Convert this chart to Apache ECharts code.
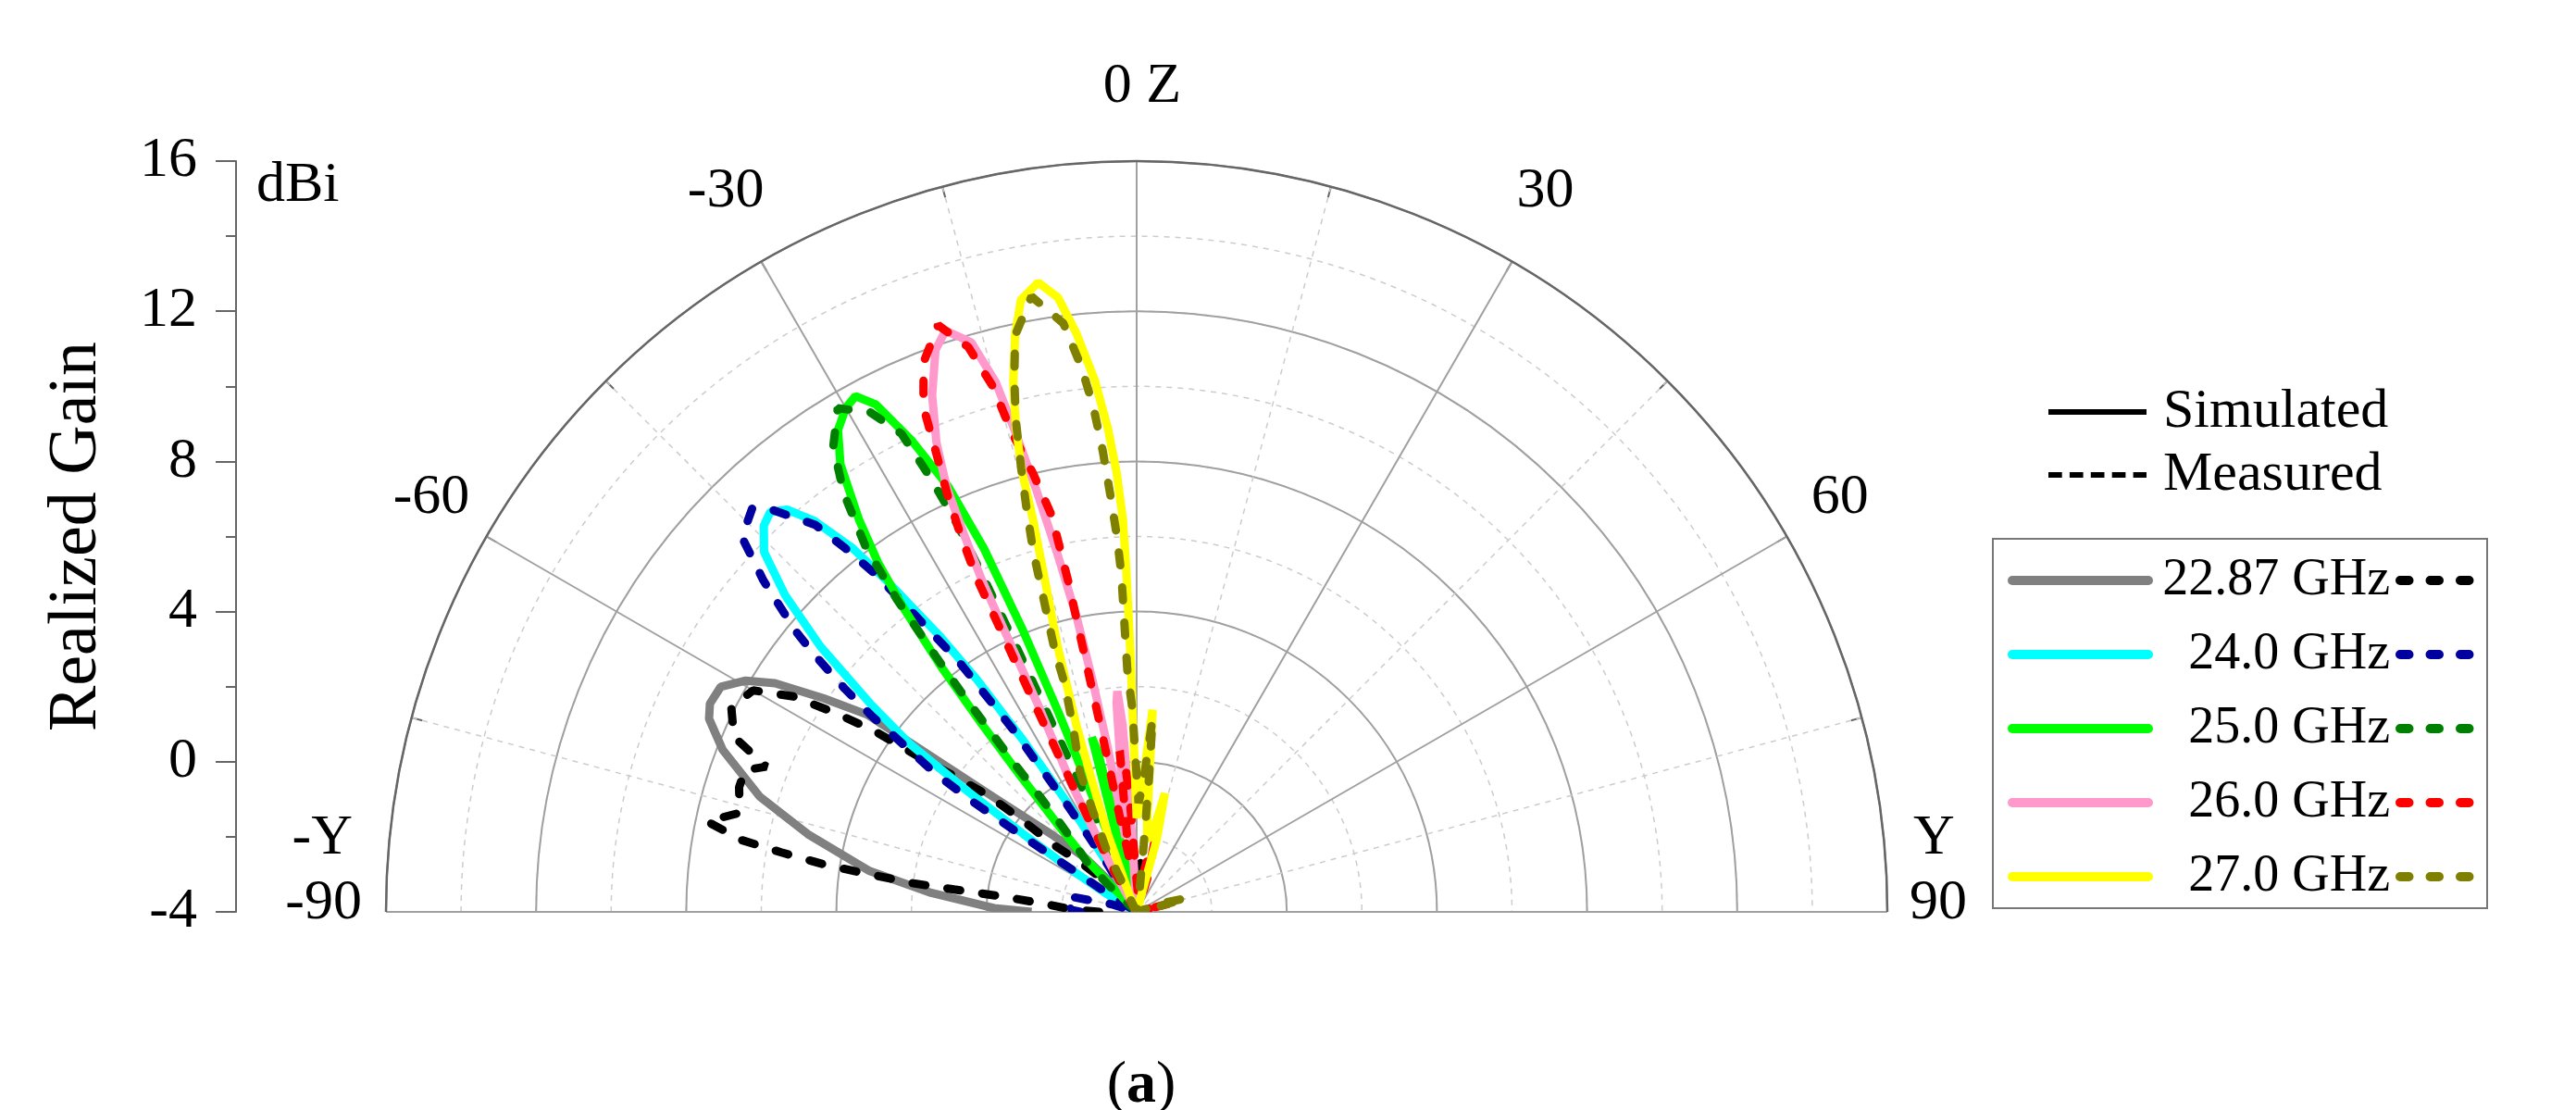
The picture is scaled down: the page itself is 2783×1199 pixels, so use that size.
<!DOCTYPE html>
<html>
<head>
<meta charset="utf-8">
<script src="https://cdn.jsdelivr.net/npm/echarts@6/dist/echarts.min.js"></script>
<style>
  html, body { margin: 0; background: #fff; }
  #main { width: 2783px; height: 1199px; }
</style>
</head>
<body>
<div id="main"></div>
<script>
// realized gain patterns, angle in degrees, gain in dBi
const sim2287Ang  = [-90, -88.5, -84.7, -81.3, -76.7, -73, -68.6, -65.7, -64, -61.6, -59.4, -57.7, -55.7, -53.8, -52.9, -51.3, -47.5, -43.7, -40, -36, 90];
const sim2287Gain = [-1.2, -0.2, 1.5, 3.2, 5.0, 6.5, 7.85, 8.5, 8.65, 8.6, 8.1, 7.4, 6.1, 4.9, 2.9, 0.9, -1.0, -2.0, -3.2, -4, -4];
const meas2287Ang  = [-90, -88, -84.9, -83.4, -83.0, -82.7, -82.0, -81.4, -80.5, -79.7, -78.1, -76.0, -72.6, -70.1, -68.6, -66.5, -63.2, -60.0, -57.9, -56.6, -55.4, -54.6, -53.4, -51.9, -51.3, -51.0, -48.6, -45, -42, -10, -2, 2.4, 8, 12, 16, 90];
const meas2287Gain = [-3.0, -2.3, -1.5, -0.3, 0.9, 2.0, 3.2, 4.4, 5.6, 6.7, 7.7, 6.9, 7.1, 7.1, 6.6, 7.7, 8.1, 7.8, 6.8, 5.65, 4.5, 3.2, 2.1, 1.0, -0.1, -1.2, -2.0, -3.0, -4, -4, -3.5, -2.8, -2.5, -3.5, -4, -4];

const sim240Ang  = [-90, -64, -61, -58.5, -57, -55.5, -54.5, -53.5, -52, -50, -48, -46, -44, -42.5, -41, -39.5, -38, -37, -35.5, -34.5, -33.5, -32, -30, -28, 90];
const sim240Gain = [-4, -4, -3.5, -2.8, -1.8, -0.3, 1.5, 3.5, 5.0, 7.0, 8.6, 9.8, 10.3, 10.45, 10.2, 9.5, 8.3, 7.0, 5.0, 3.5, 1.5, -1.0, -3.0, -4, -4];
const meas240Ang  = [-90, -88, -82, -77, -73, -68, -60, -57.5, -56.6, -56.1, -55.5, -54.4, -53.5, -52.6, -51.4, -50.5, -48.4, -46.5, -43.6, -42.3, -39.7, -38.7, -37.8, -37.1, -35.4, -34.1, -33, -31.5, -29, 90];
const meas240Gain = [-2.5, -2.2, -2.4, -2.2, -3.3, -4, -4, -3.0, -1.1, 1.2, 2.5, 3.6, 4.8, 5.8, 7.0, 7.8, 9.3, 10.5, 10.85, 10.5, 9.4, 8.4, 7.45, 6.4, 4.2, 1.8, -0.5, -2.5, -4, -4];

const sim250Ang  = [-90, -48, -44, -42, -40.5, -39.5, -38.6, -37.5, -36.5, -35.3, -33.5, -31.8, -30, -28.6, -27.2, -25.5, -23.9, -22.8, -22.0, -21.4, -21.0, -19.5, -17.5, -15.5, -14.4, -13.6, -12.5, -11, 90];
const sim250Gain = [-4, -4, -2.0, -0.8, 0.8, 2.5, 4.3, 6.2, 7.6, 8.8, 10.3, 11.1, 11.5, 11.65, 11.2, 9.9, 8.4, 6.5, 4.1, 1.7, -0.4, -2.5, -4, -3.0, 0.8, 0.4, -2.5, -4, -4];
const meas250Ang  = [-90, -55, -47, -45.3, -41, -40, -39.5, -39, -38.6, -38.2, -37.5, -36.6, -35, -33.1, -30.7, -28.1, -26.2, -25.4, -24.8, -24.6, -24.4, -24.2, -24.0, -23, -21, -18, 90];
const meas250Gain = [-4, -4, -3.2, -2.2, -1.0, 0.0, 1.1, 2.3, 3.5, 4.6, 6.5, 8.1, 9.6, 10.8, 11.6, 11.1, 10.2, 8.8, 7.3, 5.5, 3.6, 1.75, 0.1, -2.0, -3.5, -4, -4];

const sim260Ang  = [-90, -31, -29, -27, -25.5, -25.2, -25.0, -24.6, -24.1, -23.1, -21.6, -19.7, -18.2, -16.2, -14.9, -14.2, -13.4, -12.5, -11.5, -10.8, -10, -8.5, -7, -5.5, -5, -4.3, -3.5, -2, 90];
const sim260Gain = [-4, -4, -2.5, -0.2, 2.0, 4.0, 5.8, 7.0, 8.4, 9.6, 10.8, 11.9, 12.3, 11.8, 10.6, 9.2, 7.6, 5.8, 4.0, 2.3, 0.5, -2.0, -1.0, 1.6, 1.9, 1.0, -2.0, -4, -4];
const meas260Ang  = [-90, -32, -29, -27, -26.2, -25.8, -25.6, -25.0, -24.4, -23.5, -22.9, -21.2, -18.7, -16.6, -15.3, -14.6, -13.3, -12.1, -11.7, -11.5, -11.3, -11.0, -10, -8, -6, -4.5, -3.5, -1, 4, 12.2, 14.2, 17.8, 22, 70, 75.7, 80, 90];
const meas260Gain = [-4, -4, -2.5, -0.5, 2.0, 4.0, 5.9, 7.15, 8.2, 9.5, 10.6, 11.7, 12.5, 11.7, 10.5, 9.2, 8.0, 6.8, 5.0, 3.1, 2.0, 0.9, -1.5, -2.5, 0.3, 0.0, -1.0, -3.0, -3.5, -2.2, -2.1, -3.0, -4, -4, -3.1, -4, -4];

const sim270Ang  = [-90, -26, -23, -20.4, -18.8, -17.9, -16.6, -15.3, -14.8, -14.6, -14.0, -13.1, -11.9, -10.7, -8.9, -7.3, -5.95, -4.5, -3.4, -2.6, -2.0, -1.75, -1.4, -1.0, 0, 2, 4.5, 6.5, 8, 11, 13.4, 15.5, 17, 90];
const sim270Gain = [-4, -4, -3.5, -1.8, -0.3, 1.2, 3.35, 5.5, 6.8, 8.1, 9.3, 10.5, 11.7, 12.6, 12.97, 12.5, 11.5, 10.2, 8.9, 7.7, 6.45, 5.2, 3.0, 0.6, -1.5, -1.0, 1.4, -1.5, -2.0, -2.0, -0.75, -2.0, -4, -4];
const meas270Ang  = [-90, -28, -26.1, -23.4, -22.1, -19.0, -17.5, -17.4, -16.0, -15.3, -14.6, -13.8, -12.9, -11.9, -9.7, -7.1, -5.8, -4.9, -4.2, -3.6, -3.0, -2.6, -2.2, -1.2, -0.5, 1.0, 3, 4.7, 5.3, 6, 8, 12, 70, 72, 74.5, 77, 80, 90];
const meas270Gain = [-4, -4, -2.2, -1.0, 0.0, 1.2, 2.4, 3.3, 6.0, 7.1, 8.2, 9.5, 10.6, 11.7, 12.63, 11.8, 10.6, 9.5, 8.3, 7.1, 6.0, 5.0, 2.4, 1.4, 0.15, -1.1, -0.5, 1.16, -0.5, -2.2, -3.5, -4, -4, -3.2, -2.6, -3.5, -4, -4];

const freqs = ['22.87 GHz', '24.0 GHz', '25.0 GHz', '26.0 GHz', '27.0 GHz'];
const simSets = [[sim2287Ang, sim2287Gain], [sim240Ang, sim240Gain], [sim250Ang, sim250Gain], [sim260Ang, sim260Gain], [sim270Ang, sim270Gain]];
const measSets = [[meas2287Ang, meas2287Gain], [meas240Ang, meas240Gain], [meas250Ang, meas250Gain], [meas260Ang, meas260Gain], [meas270Ang, meas270Gain]];
const simColors = ['#808080', '#00ffff', '#00ff00', '#ff99cc', '#ffff00'];
const measColors = ['#000000', '#0000a0', '#008000', '#ff0000', '#808000'];

const FONT = '"Liberation Serif", "Times New Roman", serif';

function toPolar(ang, gain) {
  return ang.map(function (a, i) { return [gain[i], a]; });
}

// angle tick labels, each nudged into place with rich padding
function angleLabel(v) {
  switch (v) {
    case -90: return '{ya|-Y}\n{na|-90}';
    case -60: return '{l60|-60}';
    case -30: return '{l30|-30}';
    case 0: return '{z|0 Z}';
    case 30: return '{r30|30}';
    case 60: return '{r60|60}';
    case 90: return '{yb|Y}\n{nb|90}';
  }
  return '';
}

function richFont(extra) {
  return Object.assign({ fontFamily: FONT, fontSize: 62, color: '#000' }, extra);
}

const series = [];
freqs.forEach(function (f, i) {
  series.push({
    name: f, type: 'line', coordinateSystem: 'polar', polarIndex: 0, symbol: 'none',
    data: toPolar(simSets[i][0], simSets[i][1]),
    lineStyle: { color: simColors[i], width: 9 },
    itemStyle: { color: simColors[i] }
  });
  series.push({
    name: 'Measured ' + f, type: 'line', coordinateSystem: 'polar', polarIndex: 0, symbol: 'none',
    data: toPolar(measSets[i][0], measSets[i][1]),
    lineStyle: { color: measColors[i], width: 9, type: [14, 24], cap: 'round' },
    itemStyle: { color: measColors[i] }
  });
});
// legend-only entries
series.push({ name: 'Simulated', type: 'line', coordinateSystem: 'polar', polarIndex: 0, symbol: 'none', data: [],
  lineStyle: { color: '#000', width: 6 }, itemStyle: { color: '#000' } });
series.push({ name: 'Measured', type: 'line', coordinateSystem: 'polar', polarIndex: 0, symbol: 'none', data: [],
  lineStyle: { color: '#000', width: 6, type: [14.7, 8.2] }, itemStyle: { color: '#000' } });

const chart = echarts.init(document.getElementById('main'));

const option = {
  animation: false,
  backgroundColor: '#fff',
  title: {
    text: '({b|a})',
    left: 1228,
    top: 1136,
    textAlign: 'center',
    textStyle: {
      fontFamily: FONT, fontSize: 64, fontWeight: 'normal', color: '#000',
      rich: { b: { fontFamily: FONT, fontSize: 64, fontWeight: 'bold', color: '#000' } }
    }
  },
  // polar 0 carries the data and the solid grid, polar 1 only the dashed 2 dB rings
  polar: [
    { center: [1228, 985], radius: 811 },
    { center: [1228, 985], radius: 811 }
  ],
  angleAxis: [
    {
      polarIndex: 0, z: 2,
      type: 'value',
      min: -90, max: 90, interval: 30,
      startAngle: 180, endAngle: 0, clockwise: true,
      axisLine: { show: true, lineStyle: { color: '#666', width: 2.5 } },
      axisTick: { show: true, inside: true, length: 12, lineStyle: { color: '#666', width: 2 } },
      minorTick: { show: true, splitNumber: 2, length: 12, lineStyle: { color: '#666', width: 2 } },
      splitLine: { show: true, lineStyle: { color: '#a0a0a0', width: 2 } },
      minorSplitLine: { show: true, lineStyle: { color: '#cccccc', width: 1.5, type: [6, 6] } },
      axisLabel: {
        show: true, margin: -10, color: '#000', fontFamily: FONT, fontSize: 62,
        formatter: angleLabel,
        rich: {
          ya: richFont({ lineHeight: 78, padding: [0, 46, 0, 0] }),
          na: richFont({ padding: [0, 36, 97, 0] }),
          yb: richFont({ lineHeight: 78, padding: [0, 0, 0, 38] }),
          nb: richFont({ padding: [0, 0, 97, 34] }),
          l60: richFont({ padding: [0, 27, 16, 0] }),
          l30: richFont({ padding: [0, 2, 54, 0] }),
          z: richFont({ padding: [0, 0, 59, 12] }),
          r30: richFont({ padding: [0, 0, 54, 10] }),
          r60: richFont({ padding: [0, 0, 16, 35] })
        }
      }
    },
    {
      polarIndex: 1, z: 0,
      type: 'value',
      min: -90, max: 90, interval: 30,
      startAngle: 180, endAngle: 0, clockwise: true,
      axisLine: { show: false }, axisTick: { show: false }, axisLabel: { show: false },
      splitLine: { show: false }
    }
  ],
  radiusAxis: [
    {
      polarIndex: 0, z: 2,
      type: 'value',
      min: -4, max: 16, interval: 4,
      axisLine: { show: false }, axisTick: { show: false }, axisLabel: { show: false },
      splitLine: { show: true, lineStyle: { color: '#a0a0a0', width: 2 } }
    },
    {
      polarIndex: 1, z: 0,
      type: 'value',
      min: -4, max: 16, interval: 2,
      axisLine: { show: false }, axisTick: { show: false }, axisLabel: { show: false },
      splitLine: { show: true, lineStyle: { color: '#cccccc', width: 1.5, type: [6, 6] } }
    }
  ],
  grid: { left: 255, top: 174, width: 10, height: 811 },
  xAxis: { type: 'value', show: false, min: 0, max: 1 },
  yAxis: {
    type: 'value',
    min: -4, max: 16, interval: 4,
    name: 'Realized Gain',
    nameLocation: 'middle',
    nameGap: 134,
    nameRotate: 90,
    nameTextStyle: { fontFamily: FONT, fontSize: 74, color: '#000' },
    axisLine: { show: true, onZero: false, lineStyle: { color: '#666', width: 2 } },
    axisTick: { show: true, length: 22, lineStyle: { color: '#666', width: 2 } },
    minorTick: { show: true, splitNumber: 2, length: 11, lineStyle: { color: '#666', width: 2 } },
    splitLine: { show: false },
    axisLabel: { margin: 42, color: '#000', fontFamily: FONT, fontSize: 62 }
  },
  legend: [
    {
      data: ['Simulated', 'Measured'],
      orient: 'vertical',
      left: 2205, top: 410,
      itemWidth: 106, itemHeight: 20, itemGap: 8,
      selectedMode: false,
      itemStyle: { opacity: 0, borderWidth: 0 },
      lineStyle: { width: 6, cap: 'butt' },
      formatter: function (name) { return '{s|' + name + '}'; },
      textStyle: {
        fontFamily: FONT, fontSize: 60, color: '#000',
        rich: { s: { fontFamily: FONT, fontSize: 60, color: '#000', padding: [0, 0, 0, 13] } }
      }
    },
    {
      data: freqs,
      orient: 'vertical',
      left: 2153, top: 582,
      padding: [17, 105, 6, 16],
      borderColor: '#777', borderWidth: 2,
      itemWidth: 147, itemHeight: 14, itemGap: 24,
      selectedMode: false,
      itemStyle: { opacity: 0, borderWidth: 0 },
      lineStyle: { width: 10, cap: 'round' },
      formatter: function (name) { return '{t|' + name + '}'; },
      textStyle: {
        fontFamily: FONT, fontSize: 56, color: '#000',
        rich: { t: { fontFamily: FONT, fontSize: 56, color: '#000', width: 256, align: 'right' } }
      }
    },
    {
      data: freqs.map(function (f) { return 'Measured ' + f; }),
      orient: 'vertical',
      left: 2583, top: 594,
      itemWidth: 80, itemHeight: 14, itemGap: 24,
      selectedMode: false,
      itemStyle: { opacity: 0, borderWidth: 0 },
      lineStyle: { width: 10, cap: 'round', type: [9.5, 23] },
      formatter: function () { return '{t|\u00a0}'; },
      textStyle: {
        fontFamily: FONT, fontSize: 56, color: '#000',
        rich: { t: { fontFamily: FONT, fontSize: 56, color: '#000', width: 1 } }
      }
    }
  ],
  graphic: [
    { type: 'text', left: 277, top: 170,
      style: { text: 'dBi', font: '62px "Liberation Serif"', fill: '#000' } }
  ],
  series: series
};

chart.setOption(option);
</script>
</body>
</html>
